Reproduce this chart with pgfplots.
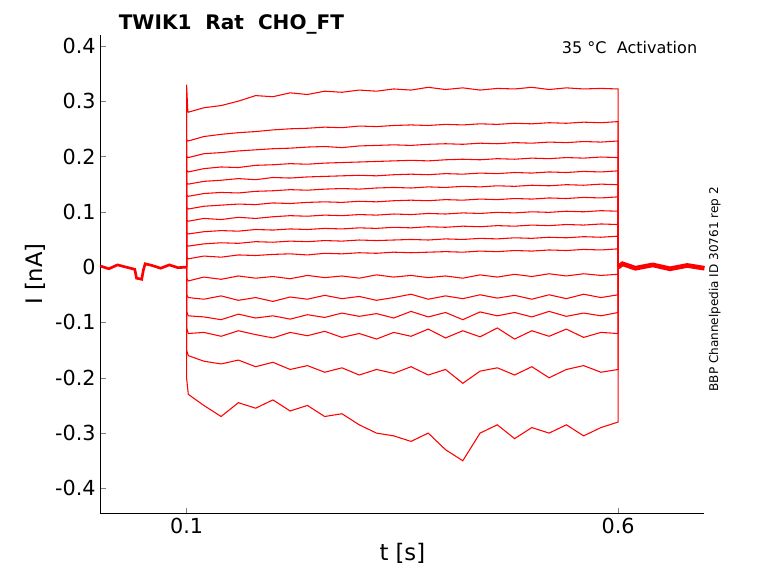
\documentclass[border=0pt]{standalone}
\usepackage{pgfplots}
\pgfplotsset{compat=1.18}
\usepackage{pgfplotstable}
\usepackage{fontspec}
\setmainfont{DejaVu Sans}
\pgfplotstableread{
t a b c d e f g h i j k l m n o p q
0.100 0 0 0 0 0 0 0 0 0 0 0 0 0 0 0 0 0
0.100 0.285 0.230 0.200 0.175 0.152 0.130 0.108 0.085 0.062 0.040 0.018 -0.020 -0.050 -0.080 -0.110 -0.150 -0.200
0.102 0.280 0.228 0.198 0.172 0.150 0.128 0.105 0.083 0.060 0.038 0.015 -0.025 -0.055 -0.088 -0.120 -0.160 -0.230
0.12 0.288 0.236 0.205 0.178 0.155 0.133 0.110 0.088 0.064 0.042 0.020 -0.018 -0.058 -0.090 -0.118 -0.170 -0.250
0.14 0.292 0.240 0.207 0.181 0.157 0.135 0.112 0.086 0.066 0.044 0.018 -0.022 -0.052 -0.095 -0.125 -0.175 -0.270
0.16 0.300 0.243 0.210 0.180 0.160 0.134 0.114 0.090 0.065 0.043 0.022 -0.016 -0.060 -0.085 -0.115 -0.168 -0.245
0.18 0.310 0.245 0.212 0.184 0.158 0.137 0.113 0.088 0.068 0.046 0.021 -0.020 -0.055 -0.092 -0.122 -0.180 -0.255
0.20 0.308 0.248 0.214 0.185 0.162 0.138 0.116 0.091 0.067 0.045 0.023 -0.017 -0.062 -0.088 -0.128 -0.172 -0.240
0.22 0.315 0.250 0.215 0.187 0.161 0.140 0.115 0.093 0.069 0.047 0.024 -0.021 -0.054 -0.094 -0.118 -0.185 -0.260
0.24 0.312 0.251 0.217 0.186 0.163 0.139 0.117 0.092 0.068 0.046 0.022 -0.015 -0.058 -0.086 -0.124 -0.178 -0.250
0.26 0.318 0.253 0.218 0.188 0.164 0.141 0.118 0.094 0.070 0.048 0.025 -0.019 -0.051 -0.091 -0.116 -0.190 -0.270
0.28 0.316 0.252 0.216 0.189 0.165 0.142 0.117 0.093 0.069 0.047 0.024 -0.016 -0.057 -0.083 -0.127 -0.182 -0.265
0.30 0.320 0.255 0.219 0.190 0.166 0.141 0.119 0.095 0.071 0.049 0.026 -0.020 -0.053 -0.089 -0.120 -0.195 -0.285
0.32 0.318 0.254 0.220 0.191 0.165 0.143 0.118 0.094 0.070 0.048 0.025 -0.014 -0.060 -0.084 -0.130 -0.185 -0.300
0.34 0.322 0.256 0.221 0.192 0.167 0.144 0.120 0.096 0.072 0.049 0.027 -0.018 -0.055 -0.092 -0.118 -0.192 -0.305
0.36 0.320 0.257 0.220 0.193 0.168 0.143 0.121 0.095 0.071 0.050 0.026 -0.015 -0.049 -0.080 -0.125 -0.180 -0.315
0.38 0.325 0.256 0.222 0.192 0.167 0.145 0.120 0.097 0.073 0.049 0.027 -0.019 -0.058 -0.090 -0.112 -0.195 -0.300
0.40 0.321 0.258 0.223 0.194 0.169 0.144 0.122 0.096 0.072 0.051 0.028 -0.016 -0.052 -0.082 -0.128 -0.185 -0.330
0.42 0.324 0.257 0.222 0.195 0.168 0.146 0.121 0.098 0.074 0.050 0.027 -0.020 -0.057 -0.095 -0.115 -0.210 -0.350
0.44 0.320 0.259 0.224 0.194 0.170 0.145 0.123 0.097 0.073 0.052 0.029 -0.014 -0.050 -0.081 -0.126 -0.188 -0.300
0.46 0.323 0.258 0.223 0.196 0.169 0.147 0.122 0.099 0.075 0.051 0.028 -0.018 -0.056 -0.088 -0.110 -0.182 -0.285
0.48 0.322 0.260 0.225 0.195 0.171 0.146 0.124 0.098 0.074 0.053 0.030 -0.013 -0.051 -0.082 -0.130 -0.195 -0.310
0.50 0.325 0.259 0.224 0.197 0.170 0.148 0.123 0.100 0.076 0.052 0.029 -0.017 -0.058 -0.090 -0.115 -0.180 -0.290
0.52 0.321 0.261 0.226 0.196 0.172 0.147 0.125 0.099 0.075 0.054 0.031 -0.012 -0.050 -0.080 -0.125 -0.200 -0.300
0.54 0.324 0.260 0.225 0.198 0.171 0.149 0.124 0.101 0.077 0.053 0.030 -0.016 -0.057 -0.089 -0.112 -0.185 -0.285
0.56 0.322 0.262 0.227 0.197 0.173 0.148 0.126 0.100 0.076 0.055 0.032 -0.012 -0.049 -0.083 -0.127 -0.178 -0.305
0.58 0.323 0.261 0.226 0.199 0.172 0.150 0.125 0.102 0.078 0.054 0.031 -0.015 -0.055 -0.088 -0.118 -0.190 -0.290
0.60 0.322 0.263 0.228 0.198 0.174 0.149 0.127 0.101 0.077 0.056 0.033 -0.013 -0.050 -0.082 -0.120 -0.185 -0.280
0.60 0 0 0 0 0 0 0 0 0 0 0 0 0 0 0 0 0
}\traces
\begin{document}
\begin{tikzpicture}
\begin{axis}[
  scale only axis, width=452pt, height=358pt,
  xmin=0, xmax=0.7, ymin=-0.445, ymax=0.42,
  axis x line*=bottom, axis y line*=left,
  xtick={0.1,0.6}, ytick={-0.4,-0.3,...,0.4},
  yticklabel style={/pgf/number format/fixed,/pgf/number format/precision=1},
  xticklabel style={/pgf/number format/fixed,/pgf/number format/precision=1},
  /pgf/number format/assume math mode=true,
  tick label style={font=\fontsize{15.5}{18}\selectfont},
  label style={font=\fontsize{17}{20}\selectfont},
  xlabel={t [s]}, ylabel={I [nA]},
  tick align=inside, major tick length=4pt,
  clip=false,
]
\foreach \c in {a,b,c,d,e,f,g,h,i,j,k,l,m,n,o,p,q}{
  \addplot+[red, no marks, solid, line width=0.8pt] table[x=t,y=\c]{\traces};
}
\addplot+[red, no marks, solid, line width=0.8pt] coordinates {(0.1,0) (0.1,0.33) (0.1015,0.28)};
\addplot+[red, no marks, solid, line width=2pt] coordinates {(0,0.002) (0.01,-0.003) (0.02,0.004) (0.03,0.0) (0.04,-0.004) (0.042,-0.02) (0.048,-0.022) (0.05,-0.005) (0.052,0.006) (0.06,0.003) (0.07,-0.002) (0.08,0.004) (0.09,-0.001) (0.1,0.0)};
\addplot+[red, no marks, solid, line width=3.5pt] coordinates {(0.6,0.0) (0.605,0.006) (0.62,-0.002) (0.64,0.004) (0.66,-0.003) (0.68,0.003) (0.7,-0.002)};
\node[anchor=south west, font=\bfseries\fontsize{15}{17}\selectfont] at (axis cs:0.016,0.413) {TWIK1\ \ Rat\ \ CHO\_FT};
\node[anchor=north east, font=\fontsize{12}{14}\selectfont] at (axis cs:0.697,0.417) {35 °C\ \ Activation};
\node[rotate=90, font=\fontsize{9}{11}\selectfont] at (axis cs:0.712,-0.04) {BBP Channelpedia ID 30761 rep 2};
\end{axis}
\pgfresetboundingbox
\path ([xshift=-75pt,yshift=-53pt]current axis.south west) rectangle ([xshift=55pt,yshift=26pt]current axis.north east);
\end{tikzpicture}
\end{document}
